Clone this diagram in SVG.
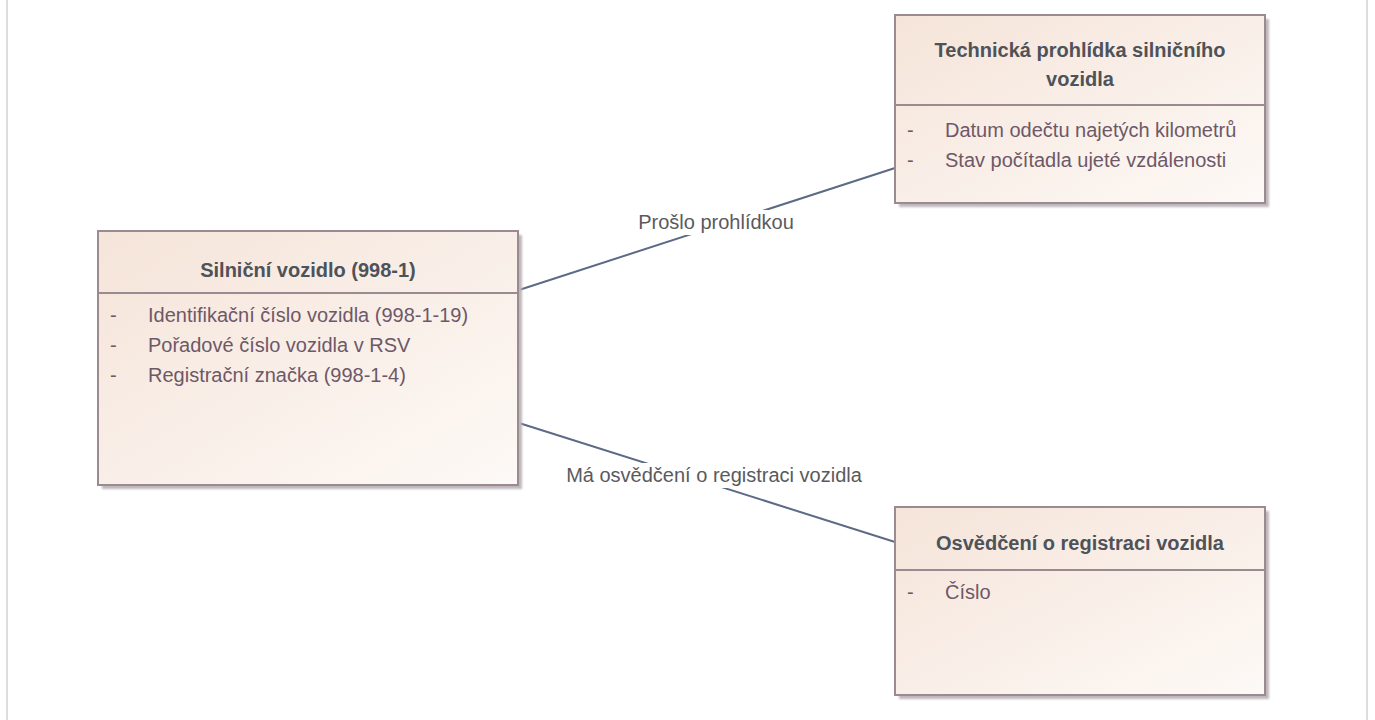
<svg xmlns="http://www.w3.org/2000/svg" width="1375" height="720" viewBox="0 0 1375 720">
<defs>
<linearGradient id="fill" x1="0" y1="0" x2="1" y2="1">
<stop offset="0" stop-color="#f5e4d9"/>
<stop offset="1" stop-color="#fdf9f6"/>
</linearGradient>
<filter id="sh" x="-5%" y="-5%" width="115%" height="115%">
<feGaussianBlur stdDeviation="1"/>
</filter>
</defs>
<style>
.shadow{fill:#bdb8bb;filter:url(#sh)}
.box{fill:url(#fill);stroke:#9b8a8f;stroke-width:2}
.div{stroke:#9b8a8f;stroke-width:2}
.title{font-family:"Liberation Sans","Open Sans",sans-serif;font-size:20px;font-weight:bold;fill:#4e5259;text-anchor:middle}
.attr{font-family:"Liberation Sans","Open Sans",sans-serif;font-size:20px;fill:#6e5868}
.lbl{font-family:"Liberation Sans","Open Sans",sans-serif;font-size:20px;fill:#5a5a5e;text-anchor:middle}
.conn{stroke:#5d6a86;stroke-width:2;fill:none}
</style>
<rect x="0" y="0" width="1375" height="720" fill="#ffffff"/>
<line x1="7" y1="0" x2="7" y2="720" stroke="#dddddd" stroke-width="2"/>
<line x1="1367" y1="0" x2="1367" y2="720" stroke="#dddddd" stroke-width="2"/>

<g id="connectors">
<line class="conn" x1="519" y1="290" x2="895" y2="168"/>
<rect x="634" y="210" width="166" height="25" fill="#ffffff"/>
<text class="lbl" x="716" y="229">Prošlo prohlídkou</text>
<line class="conn" x1="519" y1="423" x2="895" y2="542"/>
<rect x="562" y="463" width="306" height="25" fill="#ffffff"/>
<text class="lbl" x="714" y="482">Má osvědčení o registraci vozidla</text>
</g>

<g id="silnicni-vozidlo">
<rect class="shadow" x="102" y="235" width="420" height="254"/>
<rect class="box" x="98" y="231" width="420" height="254"/>
<line class="div" x1="98" y1="293" x2="518" y2="293"/>
<text class="title" x="308" y="277">Silniční vozidlo (998-1)</text>
<text class="attr" x="110" y="322">-</text>
<text class="attr" x="148" y="322">Identifikační číslo vozidla (998-1-19)</text>
<text class="attr" x="110" y="352">-</text>
<text class="attr" x="148" y="352">Pořadové číslo vozidla v RSV</text>
<text class="attr" x="110" y="382">-</text>
<text class="attr" x="148" y="382">Registrační značka (998-1-4)</text>
</g>

<g id="technicka-prohlidka">
<rect class="shadow" x="899" y="19" width="370" height="188"/>
<rect class="box" x="895" y="15" width="370" height="188"/>
<line class="div" x1="895" y1="105" x2="1265" y2="105"/>
<text class="title" x="1080" y="57">Technická prohlídka silničního</text>
<text class="title" x="1080" y="86">vozidla</text>
<text class="attr" x="907" y="137">-</text>
<text class="attr" x="945" y="137">Datum odečtu najetých kilometrů</text>
<text class="attr" x="907" y="167">-</text>
<text class="attr" x="945" y="167">Stav počítadla ujeté vzdálenosti</text>
</g>

<g id="osvedceni">
<rect class="shadow" x="899" y="511" width="370" height="188"/>
<rect class="box" x="895" y="507" width="370" height="188"/>
<line class="div" x1="895" y1="570" x2="1265" y2="570"/>
<text class="title" x="1080" y="550">Osvědčení o registraci vozidla</text>
<text class="attr" x="907" y="599">-</text>
<text class="attr" x="945" y="599">Číslo</text>
</g>
</svg>
